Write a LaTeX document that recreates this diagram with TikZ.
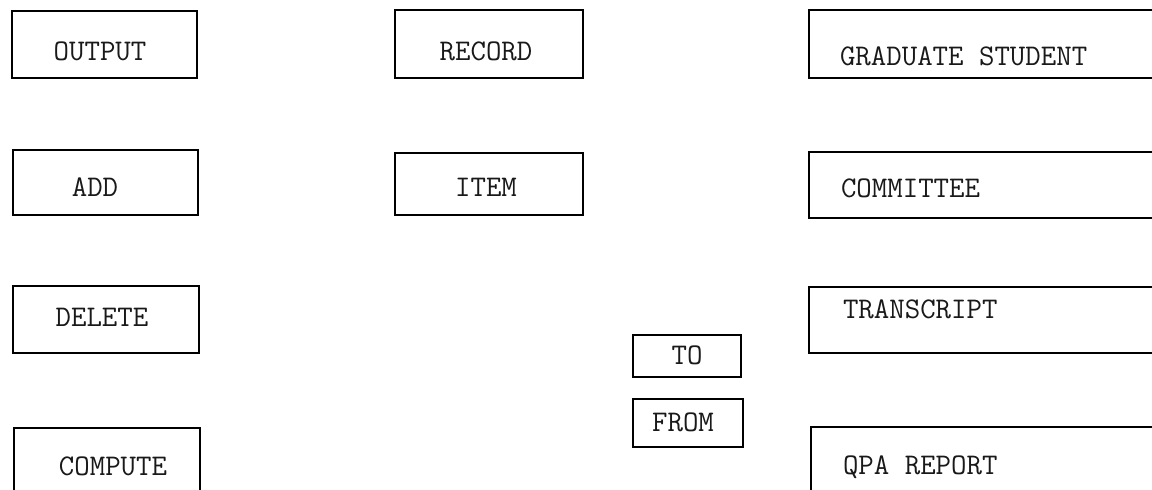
\documentclass[tikz,border=0pt]{standalone}
\begin{document}
\begin{tikzpicture}[x=0.5pt,y=-0.5pt,
  boxst/.style={draw=black, line width=1.1pt, rectangle, inner sep=0pt, outer sep=0pt},
  openbox/.style={rectangle, inner sep=0pt, outer sep=0pt},
  edge/.style={draw=black, line width=1.1pt, line join=miter},
  lbl/.style={inner sep=0pt, outer sep=0pt, font=\fontsize{15}{18}\selectfont\ttfamily, text=black!90}]
\useasboundingbox[fill=white] (0,0) rectangle (1152,490);
% left column
\node[boxst, minimum width=92.5pt, minimum height=33.5pt] (output) at (104.5,44.5) {};
\node[lbl, anchor=base] (outputT) at (100,60.5) {OUTPUT};
\node[boxst, minimum width=92.5pt, minimum height=32.5pt] (add) at (105.5,182.5) {};
\node[lbl, anchor=base] (addT) at (95,196.5) {ADD};
\node[boxst, minimum width=93pt, minimum height=33.5pt] (delete) at (106,319.5) {};
\node[lbl, anchor=base] (deleteT) at (102,326.5) {DELETE};
\node[openbox, minimum width=93pt, minimum height=31pt] (compute) at (107,459) {};
\draw[edge] (compute.south west) -- (compute.north west) -- (compute.north east) -- (compute.south east);
\node[lbl, anchor=base] (computeT) at (113,475.5) {COMPUTE};
% middle column
\node[boxst, minimum width=94pt, minimum height=34pt] (record) at (489,44) {};
\node[lbl, anchor=base] (recordT) at (486,60.5) {RECORD};
\node[boxst, minimum width=94pt, minimum height=31pt] (item) at (489,184) {};
\node[lbl, anchor=base] (itemT) at (486,196.5) {ITEM};
% to / from
\node[boxst, minimum width=54pt, minimum height=21pt] (to) at (687,356) {};
\node[lbl, anchor=base] (toT) at (687,364.5) {TO};
\node[boxst, minimum width=55pt, minimum height=24pt] (from) at (688,423) {};
\node[lbl, anchor=base] (fromT) at (683,431.5) {FROM};
% right column (open to the right edge)
\node[openbox, minimum width=171.5pt, minimum height=34pt] (grad) at (980.5,44) {};
\draw[edge] (grad.north east) -- (grad.north west) -- (grad.south west) -- (grad.south east);
\node[lbl, anchor=base west] (gradT) at (840,65.5) {GRADUATE STUDENT};
\node[openbox, minimum width=171.5pt, minimum height=33pt] (comm) at (980.5,185) {};
\draw[edge] (comm.north east) -- (comm.north west) -- (comm.south west) -- (comm.south east);
\node[lbl, anchor=base west] (commT) at (841,197.5) {COMMITTEE};
\node[openbox, minimum width=171.5pt, minimum height=33pt] (trans) at (980.5,320) {};
\draw[edge] (trans.north east) -- (trans.north west) -- (trans.south west) -- (trans.south east);
\node[lbl, anchor=base west] (transT) at (843,318.5) {TRANSCRIPT};
\node[openbox, minimum width=170.5pt, minimum height=31.5pt] (qpa) at (981.5,458.5) {};
\draw[edge] (qpa.north east) -- (qpa.north west) -- (qpa.south west);
\node[lbl, anchor=base west] (qpaT) at (843,474.5) {QPA REPORT};
\end{tikzpicture}
\end{document}
